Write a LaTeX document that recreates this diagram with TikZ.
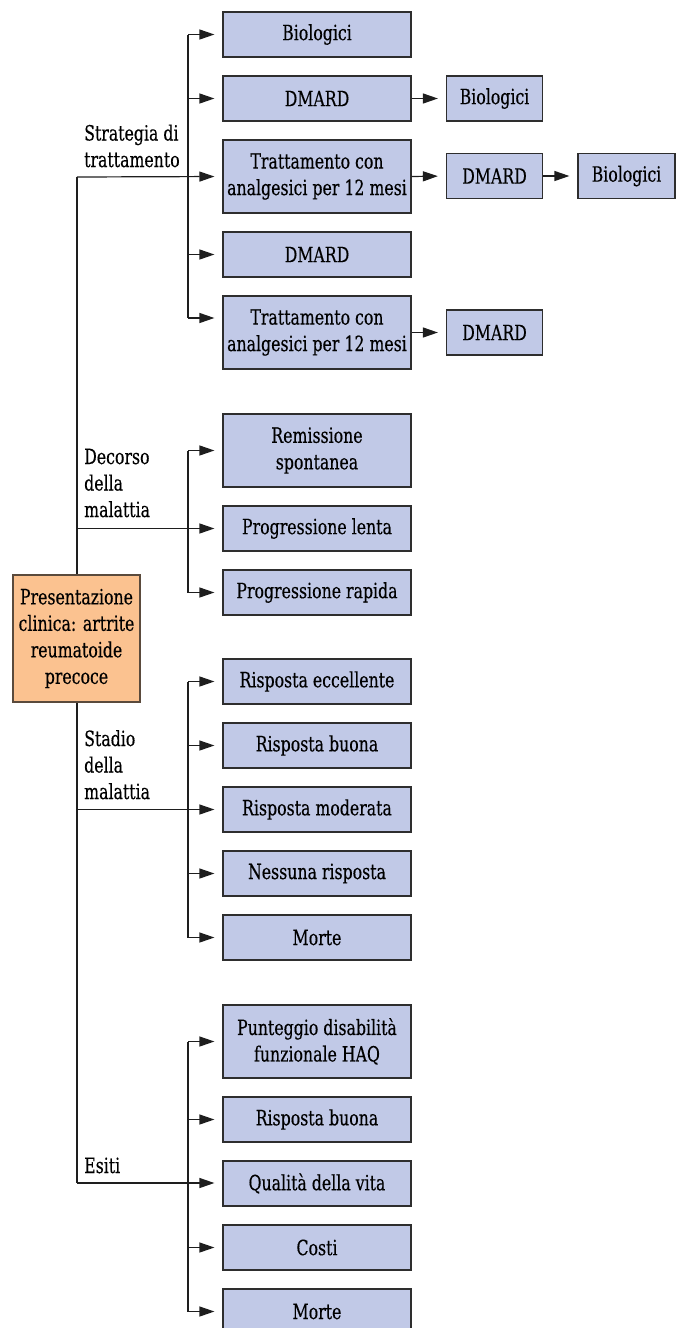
\documentclass[tikz,border=0pt]{standalone}
\usepackage{fontspec}
\setmainfont{DejaVu Serif}[FakeStretch=0.75,FakeBold=0.3]
\usetikzlibrary{arrows.meta,calc}
\definecolor{boxfill}{HTML}{C1C9E7}
\definecolor{boxline}{HTML}{2E2E2E}
\definecolor{mainfill}{HTML}{FBC290}
\definecolor{mainline}{HTML}{5A4A3C}
\definecolor{wire}{HTML}{1E1E1E}
\tikzset{
  sbox/.style={draw=boxline, fill=boxfill, line width=1.2pt, inner sep=0pt, align=center,
    minimum width=188pt, minimum height=45pt},
  tallbox/.style={sbox, minimum height=73pt},
  smallbox/.style={sbox, minimum width=96pt, minimum height=45pt},
  mainbox/.style={draw=mainline, fill=mainfill, line width=1.2pt, inner sep=0pt, align=center,
    minimum width=127pt, minimum height=127pt},
  lab/.style={anchor=base west, inner sep=0pt, align=left},
  wirel/.style={draw=wire, line width=1.2pt},
  arr/.style={wirel, -{Triangle[length=15pt,width=10pt]}, shorten >=8pt},
}
\begin{document}
\begin{tikzpicture}[x=1pt,y=-1pt, font=\fontsize{21}{26.5}\selectfont]
\useasboundingbox (0,0) rectangle (679,1328);
% main box
\coordinate (trtop) at (77,177);
\coordinate (trbot) at (77,1183);
\draw[wirel] (trtop) -- (trbot);
\node[mainbox] (main) at (76.5,638.5) {Presentazione\\clinica: artrite\\reumatoide\\precoce};

% Strategia
\node[sbox] (s1) at (317,34.5) {Biologici};
\node[sbox] (s2) at (317,98.5) {DMARD};
\node[smallbox] (s2b) at (494.5,98.5) {Biologici};
\node[tallbox] (s3) at (317,176.5) {Trattamento con\\analgesici per 12 mesi};
\node[smallbox] (s3b) at (494.5,176) {DMARD};
\node[smallbox, minimum width=97pt] (s3c) at (626.5,176) {Biologici};
\node[sbox] (s4) at (317,254.5) {DMARD};
\node[tallbox] (s5) at (317,332.5) {Trattamento con\\analgesici per 12 mesi};
\node[smallbox] (s5b) at (494.5,332.5) {DMARD};
\coordinate (sbt) at (188,34.5);
\coordinate (sbb) at (188,318);
\draw[wirel] (sbt) -- (sbb);
\draw[arr] (sbt) -- (s1.west);
\draw[arr] (188,98.5) -- (s2.west);
\draw[arr] (trtop) -- (s3.west);
\draw[arr] (188,254.5) -- (s4.west);
\draw[arr] (sbb) -- (sbb -| s5.west);
\draw[arr] (s2.east) -- (s2b.west);
\draw[arr] (s3.east) -- (s3b.west);
\draw[arr] (s3b.east) -- (s3c.west);
\draw[arr] (s5.east) -- (s5b.west);
\node[lab] (ls) at (84,167) {Strategia di\\trattamento};

% Decorso
\node[tallbox] (d1) at (317,450.5) {Remissione\\spontanea};
\node[sbox] (d2) at (317,528.5) {Progressione lenta};
\node[sbox] (d3) at (317,592.5) {Progressione rapida};
\coordinate (dbt) at (188,450.5);
\coordinate (dbb) at (188,592.5);
\draw[wirel] (dbt) -- (dbb);
\draw[arr] (dbt) -- (d1.west);
\draw[arr] (77,528.5) -- (d2.west);
\draw[arr] (dbb) -- (d3.west);
\node[lab] (ld) at (84,517) {Decorso\\della\\malattia};

% Stadio
\node[sbox] (t1) at (317,681.5) {Risposta eccellente};
\node[sbox] (t2) at (317,745.5) {Risposta buona};
\node[sbox] (t3) at (317,809.5) {Risposta moderata};
\node[sbox] (t4) at (317,873.5) {Nessuna risposta};
\node[sbox] (t5) at (317,937.5) {Morte};
\coordinate (tbt) at (188,681.5);
\coordinate (tbb) at (188,937.5);
\draw[wirel] (tbt) -- (tbb);
\draw[arr] (tbt) -- (t1.west);
\draw[arr] (188,745.5) -- (t2.west);
\draw[arr] (77,809.5) -- (t3.west);
\draw[arr] (188,873.5) -- (t4.west);
\draw[arr] (tbb) -- (t5.west);
\node[lab] (lt) at (84,799) {Stadio\\della\\malattia};

% Esiti
\node[tallbox] (e1) at (317,1041.5) {Punteggio disabilità\\funzionale HAQ};
\node[sbox] (e2) at (317,1119.5) {Risposta buona};
\node[sbox] (e3) at (317,1183.5) {Qualità della vita};
\node[sbox] (e4) at (317,1247.5) {Costi};
\node[sbox] (e5) at (317,1311.5) {Morte};
\coordinate (ebt) at (188,1041.5);
\coordinate (ebb) at (188,1311.5);
\draw[wirel] (ebt) -- (ebb);
\draw[arr] (ebt) -- (e1.west);
\draw[arr] (188,1119.5) -- (e2.west);
\draw[arr] (trbot) -- (trbot -| e3.west);
\draw[arr] (188,1247.5) -- (e4.west);
\draw[arr] (ebb) -- (e5.west);
\node[lab] (le) at (84,1173) {Esiti};
\end{tikzpicture}
\end{document}
